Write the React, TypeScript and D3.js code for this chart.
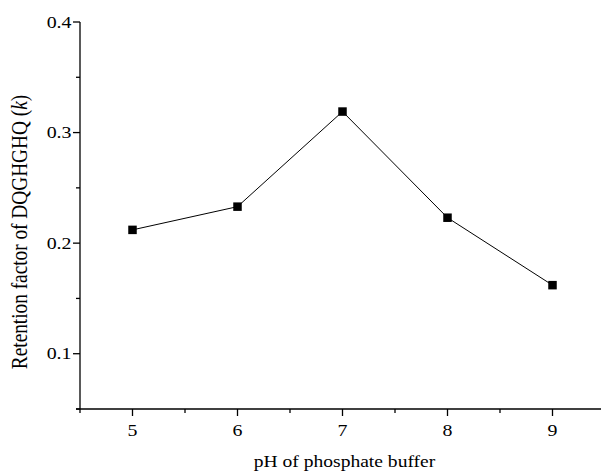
import React from "react";
import * as d3 from "d3";

const phValues = [5, 6, 7, 8, 9];
const retention = [0.212, 0.233, 0.319, 0.223, 0.162];
const xMajorTicks = [5, 6, 7, 8, 9];
const xMinorTicks = [4.5, 5.5, 6.5, 7.5, 8.5, 9.5];
const yMajorTicks = [0.1, 0.2, 0.3, 0.4];
const yMinorTicks = [0.05, 0.15, 0.25, 0.35];
const xTitle = "pH of phosphate buffer";

const W = 601;
const H = 471;
const FONT = "'Liberation Serif', 'Times New Roman', serif";
const SX = 1.22;

export default function App() {
  const x = d3.scaleLinear().domain([4.5, 9.5]).range([80, 605]);
  const y = d3.scaleLinear().domain([0.05, 0.4]).range([409, 22]);
  const line = d3
    .line<number>()
    .x((_, i) => x(phValues[i]))
    .y((d) => y(d));
  const x0 = x(4.5);
  const y0 = y(0.05);
  const ms = 8.5;
  return (
    <svg
      width={W}
      height={H}
      style={{ position: "absolute", left: 0, top: 0, background: "#fff" }}
    >
      <rect x={0} y={0} width={W} height={H} fill="#fff" />
      {/* axes */}
      <line x1={x0} y1={y(0.4)} x2={x0} y2={y0} stroke="#000" strokeWidth={1.3} />
      <line x1={x0 - 4} y1={y0} x2={W + 10} y2={y0} stroke="#000" strokeWidth={1.3} />
      {yMajorTicks.map((t) => (
        <g key={"ym" + t}>
          <line x1={x0 - 7} x2={x0} y1={y(t)} y2={y(t)} stroke="#000" strokeWidth={1.3} />
          <text
            transform={`translate(${x0 - 8.5},${y(t) + 5.6}) scale(${SX},1)`}
            textAnchor="end"
            fontFamily={FONT}
            fontSize={16.3}
            fill="#000"
          >
            {t.toFixed(1)}
          </text>
        </g>
      ))}
      {yMinorTicks.map((t) => (
        <line key={"yn" + t} x1={x0 - 4} x2={x0} y1={y(t)} y2={y(t)} stroke="#000" strokeWidth={1.3} />
      ))}
      {xMajorTicks.map((t) => (
        <g key={"xm" + t}>
          <line x1={x(t)} x2={x(t)} y1={y0} y2={y0 + 7} stroke="#000" strokeWidth={1.3} />
          <text
            transform={`translate(${x(t)},${y0 + 26.5}) scale(${SX},1)`}
            textAnchor="middle"
            fontFamily={FONT}
            fontSize={16.3}
            fill="#000"
          >
            {t}
          </text>
        </g>
      ))}
      {xMinorTicks.map((t) => (
        <line key={"xn" + t} x1={x(t)} x2={x(t)} y1={y0} y2={y0 + 4} stroke="#000" strokeWidth={1.3} />
      ))}
      {/* titles */}
      <text
        transform={`translate(${(255 + 434) / 2},466.5) scale(1.2,1)`}
        textAnchor="middle"
        fontFamily={FONT}
        fontSize={16.3}
        fill="#000"
      >
        {xTitle}
      </text>
      <text
        transform={`translate(27,232) scale(${SX},1) rotate(-90)`}
        textAnchor="middle"
        fontFamily={FONT}
        fontSize={19.3}
        fill="#000"
      >
        Retention factor of DQGHGHQ (<tspan fontStyle="italic">k</tspan>)
      </text>
      {/* data */}
      <path d={line(retention) || ""} fill="none" stroke="#000" strokeWidth={1} />
      {retention.map((v, i) => (
        <rect
          key={"pt" + i}
          x={x(phValues[i]) - ms / 2}
          y={y(v) - ms / 2}
          width={ms}
          height={ms}
          fill="#000"
        />
      ))}
    </svg>
  );
}
